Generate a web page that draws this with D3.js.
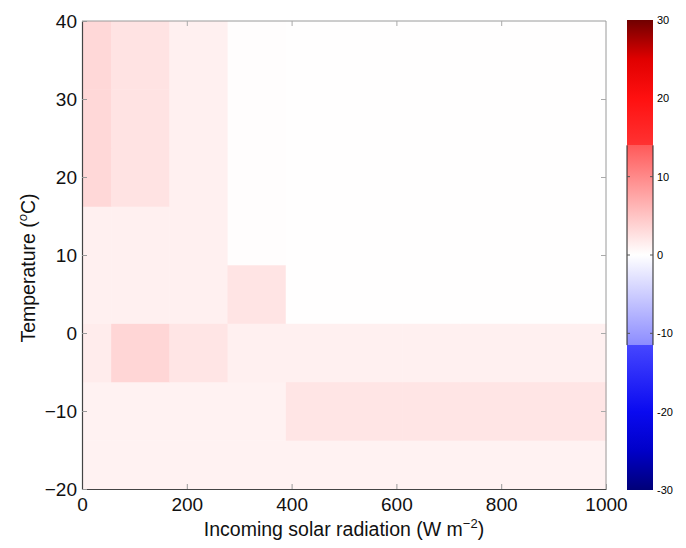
<!DOCTYPE html>
<html>
<head>
<meta charset="utf-8">
<script src="https://cdn.jsdelivr.net/npm/d3@7"></script>
<style>
  html, body { margin: 0; padding: 0; background: #fff; }
  svg { display: block; font-family: "Liberation Sans", Arial, Helvetica, sans-serif; }
</style>
</head>
<body>
<svg id="chart" width="686" height="548"></svg>
<script>
// Incoming solar radiation bin edges (W m^-2)
const radiationEdges = [0, 55.6, 166.7, 277.8, 388.9, 500, 611.1, 722.2, 833.3, 944.4, 1000];
// Temperature bin edges (degC)
const temperatureEdges = [-20, -13.75, -6.25, 1.25, 8.75, 16.25, 23.75, 31.25, 40];

// Difference per cell; one row per temperature band (bottom to top),
// one value per radiation band (left to right)
const row1 = [1.1, 1.1, 1.1, 1.1, 1.1, 1.1, 1.1, 1.1, 1.1, 1.1];
const row2 = [1.1, 1.1, 1.1, 1.1, 2.2, 2.2, 2.2, 2.2, 2.2, 2.2];
const row3 = [1.6, 3.5, 2.2, 1.3, 1.3, 1.3, 1.3, 1.3, 1.3, 1.3];
const row4 = [1.3, 1.3, 1.3, 2.3, 0.1, 0.1, 0.1, 0.1, 0.1, 0.1];
const row5 = [1.3, 1.3, 1.3, 0.15, 0.05, 0.05, 0.05, 0.05, 0.05, 0.05];
const row6 = [3.3, 2.4, 1.3, 0.15, 0.05, 0.05, 0.05, 0.05, 0.05, 0.05];
const row7 = [3.3, 2.4, 1.3, 0.15, 0.05, 0.05, 0.05, 0.05, 0.05, 0.05];
const row8 = [3.3, 2.4, 1.3, 0.15, 0.05, 0.05, 0.05, 0.05, 0.05, 0.05];
const valueRows = [row1, row2, row3, row4, row5, row6, row7, row8];

// Axis ticks
const xTicks = [0, 200, 400, 600, 800, 1000];
const yTicks = [-20, -10, 0, 10, 20, 30, 40];
const colorTicks = [-30, -20, -10, 0, 10, 20, 30];
const colorTickLabels = ["-30", "-20", "-10", "0", "10", "20", "30"];

// Diverging blue-white-red colour map
const colorStops = [-30, -25, -20, -11.5, -11.5, 0, 14, 14, 20, 25, 30];
const colorRange = ["#000078", "#0000c8", "#0a0af0", "#4646ff", "#8c8cff", "#ffffff",
                    "#ff5a5a", "#ff3232", "#ff1010", "#e00000", "#700000"];

const svg = d3.select("#chart");
const x = d3.scaleLinear().domain([0, 1000]).range([82, 606]);
const y = d3.scaleLinear().domain([-20, 40]).range([489, 21]);
const color = d3.scaleLinear().domain(colorStops).range(colorRange).clamp(true);

// Heatmap cells
const cells = [];
valueRows.forEach((row, i) => {
  row.forEach((v, j) => {
    cells.push({ x0: radiationEdges[j], x1: radiationEdges[j + 1],
                 y0: temperatureEdges[i], y1: temperatureEdges[i + 1], v });
  });
});
svg.append("g")
  .selectAll("rect")
  .data(cells)
  .join("rect")
  .attr("x", d => x(d.x0))
  .attr("y", d => y(d.y1))
  .attr("width", d => x(d.x1) - x(d.x0) + 0.5)
  .attr("height", d => y(d.y0) - y(d.y1) + 0.5)
  .attr("fill", d => color(d.v));

// Frame
const frame = svg.append("g").attr("fill", "none");
frame.append("line").attr("x1", 82).attr("x2", 606).attr("y1", 21).attr("y2", 21).attr("stroke", "#9a9a9a");
frame.append("line").attr("x1", 606).attr("x2", 606).attr("y1", 21).attr("y2", 489).attr("stroke", "#9a9a9a");

// Axes with inward ticks on all sides
const fontSize = 19;
const xAxis = svg.append("g").attr("transform", "translate(0,489)")
  .call(d3.axisBottom(x).tickValues(xTicks).tickSizeInner(-5).tickSizeOuter(0).tickPadding(9)
        .tickFormat(d3.format("d")));
const yAxis = svg.append("g").attr("transform", "translate(82,0)")
  .call(d3.axisLeft(y).tickValues(yTicks).tickSizeInner(-5).tickSizeOuter(0).tickPadding(5)
        .tickFormat(d => d < 0 ? "\u2212" + Math.abs(d) : String(d)));
[xAxis, yAxis].forEach(g => {
  g.select(".domain").attr("stroke", "#444").attr("stroke-width", 1.2);
  g.selectAll(".tick line").attr("stroke", "#999");
  g.selectAll(".tick text").attr("font-size", fontSize).attr("fill", "#111")
    .attr("font-family", "Liberation Sans, Arial, sans-serif");
});
// Mirror ticks on top and right
svg.append("g").attr("transform", "translate(0,21)")
  .call(d3.axisTop(x).tickValues(xTicks.slice(1, -1)).tickSizeInner(-5).tickSizeOuter(0).tickFormat(""))
  .call(g => { g.select(".domain").remove(); g.selectAll(".tick line").attr("stroke", "#aaa"); });
svg.append("g").attr("transform", "translate(606,0)")
  .call(d3.axisRight(y).tickValues(yTicks.slice(1, -1)).tickSizeInner(-5).tickSizeOuter(0).tickFormat(""))
  .call(g => { g.select(".domain").remove(); g.selectAll(".tick line").attr("stroke", "#aaa"); });

// Axis titles
const xTitle = svg.append("text")
  .attr("x", 344).attr("y", 536)
  .attr("text-anchor", "middle").attr("font-size", 19.5).attr("fill", "#111");
xTitle.append("tspan").text("Incoming solar radiation (W m");
xTitle.append("tspan").attr("dy", -8).attr("font-size", 13).text("\u22122");
xTitle.append("tspan").attr("dy", 8).text(")");

const yTitle = svg.append("text")
  .attr("transform", "translate(35,268) rotate(-90)")
  .attr("text-anchor", "middle").attr("font-size", 19.5).attr("fill", "#111");
yTitle.append("tspan").text("Temperature (");
yTitle.append("tspan").attr("dy", -8).attr("font-size", 13).attr("font-style", "italic").text("o");
yTitle.append("tspan").attr("dy", 8).text("C)");

// Colour bar
const cy = d3.scaleLinear().domain([-30, 30]).range([490, 20]);
const cbX0 = 627, cbX1 = 653;
const defs = svg.append("defs");
const grad = defs.append("linearGradient").attr("id", "cbGrad")
  .attr("x1", 0).attr("y1", 1).attr("x2", 0).attr("y2", 0);
colorStops.forEach((s, i) => {
  grad.append("stop")
    .attr("offset", (s + 30) / 60)
    .attr("stop-color", colorRange[i]);
});
svg.append("rect")
  .attr("x", cbX0).attr("y", cy(30))
  .attr("width", cbX1 - cbX0).attr("height", cy(-30) - cy(30))
  .attr("fill", "url(#cbGrad)");
// side rules on the central part of the bar
[cbX0, cbX1].forEach(cx => {
  svg.append("line").attr("x1", cx).attr("x2", cx)
    .attr("y1", cy(14)).attr("y2", cy(-11.5))
    .attr("stroke", "#222").attr("stroke-width", 1);
});
// bar ticks
[-10, 0, 10].forEach(t => {
  svg.append("line").attr("x1", cbX0).attr("x2", cbX0 + 3).attr("y1", cy(t)).attr("y2", cy(t)).attr("stroke", "#555");
  svg.append("line").attr("x1", cbX1 - 3).attr("x2", cbX1).attr("y1", cy(t)).attr("y2", cy(t)).attr("stroke", "#555");
});
svg.append("g")
  .selectAll("text")
  .data(colorTicks)
  .join("text")
  .attr("x", 657)
  .attr("y", d => cy(d) + 4)
  .attr("font-size", 11)
  .attr("fill", "#000")
  .text((d, i) => colorTickLabels[i]);
</script>
</body>
</html>
